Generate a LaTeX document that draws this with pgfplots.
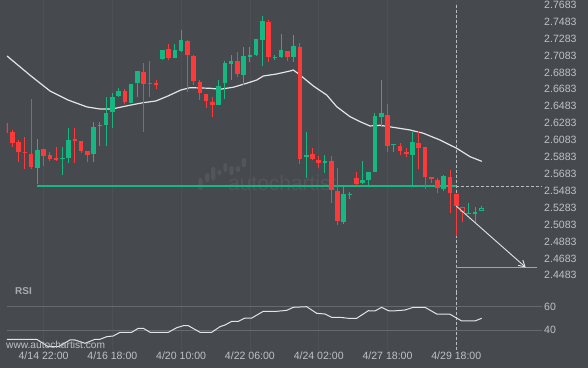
\documentclass[border=0pt]{standalone}
\usepackage{fontspec}
\setmainfont{Liberation Sans}
\usepackage{pgfplots}
\pgfplotsset{compat=1.18}
\usepackage{pgfplotstable}
\usetikzlibrary{arrows.meta}

\definecolor{bg}{RGB}{70,74,79}
\definecolor{cgreen}{RGB}{22,183,128}
\definecolor{cred}{RGB}{252,58,58}
\definecolor{lbl}{RGB}{190,193,197}
\definecolor{gridc}{RGB}{77,81,86}
\definecolor{rsigrid}{RGB}{102,106,110}
\definecolor{lineg}{RGB}{228,228,228}
\definecolor{orng}{RGB}{232,142,92}
\definecolor{dashc}{RGB}{185,188,192}
\definecolor{wmark}{RGB}{82,86,91}
\definecolor{rsilbl}{RGB}{168,172,178}

% i open high low close
\pgfplotstableread{
i o h l c
5 2.5756 2.6092 2.5566 2.5965
9 2.5859 2.6004 2.5669 2.5870
10 2.5874 2.6222 2.5815 2.6083
14 2.5921 2.6300 2.5827 2.6241
15 2.6249 2.6300 2.6016 2.6264
16 2.6261 2.6588 2.6016 2.6406
17 2.6418 2.6643 2.6229 2.6592
18 2.6604 2.6695 2.6595 2.6663
20 2.6521 2.6746 2.6521 2.6746
21 2.6757 2.6903 2.6595 2.6903
25 2.7041 2.7148 2.7029 2.7148
27 2.7057 2.7215 2.7050 2.7148
28 2.7136 2.7384 2.7128 2.7266
34 2.6497 2.6793 2.6497 2.6722
35 2.6761 2.7018 2.6568 2.6997
36 2.6986 2.7089 2.6793 2.7018
38 2.6852 2.7180 2.6734 2.7077
39 2.7065 2.7180 2.7002 2.7089
40 2.7089 2.7278 2.7077 2.7278
41 2.7266 2.7550 2.6962 2.7491
43 2.7053 2.7089 2.7029 2.7059
44 2.7061 2.7337 2.7050 2.7148
46 2.7061 2.7325 2.7009 2.7195
48 2.5879 2.6174 2.5630 2.5906
51 2.5808 2.5906 2.5689 2.5835
54 2.5110 2.5531 2.5090 2.5445
55 2.5436 2.5472 2.5382 2.5445
57 2.5571 2.5835 2.5563 2.5610
58 2.5610 2.5705 2.5539 2.5705
59 2.5708 2.6399 2.5708 2.6367
60 2.6359 2.6793 2.6241 2.6399
62 2.6024 2.6036 2.5945 2.6036
65 2.5906 2.6174 2.5551 2.6060
70 2.5500 2.5669 2.5484 2.5657
74 2.5212 2.5335 2.5204 2.5223
75 2.5208 2.5287 2.5098 2.5228
76 2.5243 2.5303 2.5243 2.5275
}\greentab

\pgfplotstableread{
i o h l c
0 2.6281 2.6281 2.6170 2.6170
1 2.6181 2.6202 2.5997 2.6051
2 2.6060 2.6083 2.5827 2.5945
3 2.5945 2.6119 2.5737 2.5933
4 2.5918 2.6568 2.5737 2.5767
6 2.5977 2.5977 2.5779 2.5898
7 2.5909 2.5938 2.5838 2.5859
8 2.5874 2.5997 2.5838 2.5847
11 2.6095 2.6222 2.5815 2.6071
12 2.6071 2.6071 2.5926 2.5957
13 2.5953 2.5953 2.5827 2.5906
19 2.6666 2.6683 2.6505 2.6533
22 2.6891 2.6997 2.6181 2.6746
23 2.6757 2.7018 2.6588 2.6749
24 2.6757 2.6793 2.6683 2.6734
26 2.7156 2.7215 2.7029 2.7057
29 2.7254 2.7266 2.6655 2.7089
30 2.7077 2.7089 2.6734 2.6781
31 2.6773 2.6793 2.6556 2.6643
32 2.6627 2.6627 2.6458 2.6548
33 2.6533 2.6588 2.6359 2.6497
37 2.7018 2.7128 2.6832 2.6864
42 2.7479 2.7503 2.7009 2.7068
45 2.7136 2.7136 2.7018 2.7068
47 2.7183 2.7227 2.5796 2.5862
49 2.5918 2.5985 2.5847 2.5862
50 2.5847 2.5894 2.5749 2.5808
52 2.5835 2.5894 2.5335 2.5492
53 2.5480 2.5749 2.5078 2.5129
56 2.5637 2.5708 2.5543 2.5563
61 2.6379 2.6509 2.5938 2.6016
63 2.6012 2.6044 2.5906 2.5953
64 2.5945 2.5985 2.5879 2.5914
66 2.6051 2.6193 2.5737 2.5992
67 2.6000 2.6000 2.5500 2.5642
68 2.5642 2.5642 2.5571 2.5618
69 2.5610 2.5630 2.5453 2.5512
71 2.5646 2.5728 2.5216 2.5460
72 2.5445 2.5445 2.4948 2.5306
73 2.5287 2.5287 2.5117 2.5235
}\redtab

\pgfplotstableread{
i o c
73 2.5287 2.5235
76 2.5243 2.5275
}\hollowtab

\pgfplotstableread{
i v
0.15 2.7077
3.99 2.6840
7.03 2.6663
9.91 2.6556
12.95 2.6474
15.02 2.6450
16.94 2.6450
19.98 2.6497
21.90 2.6524
23.98 2.6545
25.90 2.6604
27.98 2.6675
29.42 2.6702
32.62 2.6695
34.22 2.6683
36.34 2.6707
38.49 2.6754
40.09 2.6793
41.14 2.6840
43.28 2.6864
45.41 2.6899
45.94 2.6911
47.01 2.6852
49.14 2.6722
51.28 2.6615
52.88 2.6477
55.01 2.6359
56.61 2.6300
58.21 2.6249
59.80 2.6257
61.93 2.6233
64.59 2.6202
66.73 2.6163
69.40 2.6083
72.07 2.5985
74.20 2.5886
76.07 2.5831
}\matab

\pgfplotstableread{
i v
0.15 32.4
4.90 32.4
6.76 26.1
8.36 26.1
10.23 31.8
11.03 31.8
12.63 29.0
14.23 32.4
15.03 32.4
16.10 34.6
17.15 35.2
18.22 38.3
20.09 38.3
21.15 41.7
21.95 41.7
23.02 38.3
25.95 38.3
27.29 42.2
28.35 43.9
29.15 43.9
31.02 38.3
32.89 38.3
34.22 43.1
35.02 44.5
36.09 47.6
37.14 47.6
38.21 50.4
39.29 50.4
41.14 56.1
43.28 56.1
44.88 56.9
45.94 59.5
48.08 60.0
49.68 54.4
51.01 53.8
52.08 51.0
53.41 51.0
54.73 50.2
56.08 50.2
57.93 56.6
59.00 56.4
60.07 59.5
61.13 56.6
61.93 56.4
63.80 57.2
65.13 59.5
67.00 59.5
68.87 53.8
71.00 53.6
72.87 47.9
74.99 47.9
76.07 50.2
}\rsitab

\pgfplotsset{
  lblfont/.style={font=\fontsize{10.6}{12}\selectfont, text=lbl},
  candle/.style={forget plot, draw=none, mark=none},
}

\begin{document}
\begin{tikzpicture}[x=1bp,y=1bp]
\fill[bg] (0,0) rectangle (588,368);
% watermark (logo)
\begin{scope}[wmark, rounded corners=1.5bp]
\fill (198.3,178) rectangle (202.7,190);
\fill (205,186) rectangle (209.3,195);
\fill (211,188) rectangle (215.3,201);
\fill (217.3,193) rectangle (221.7,198);
\fill (223.3,196) rectangle (227.3,205);
\fill (229.3,193) rectangle (233.7,202);
\fill (235.7,196) rectangle (240,202);
\fill (241.7,201) rectangle (246,210);
\end{scope}
\node[anchor=base west, inner sep=0pt, font=\fontsize{21}{21}\selectfont, text=wmark] at (228,178) {autochartist};

\begin{axis}[
  at={(7bp,76bp)}, anchor=south west, scale only axis,
  width=535bp, height=292bp,
  xmin=0.152, xmax=85.71, ymin=2.42855, ymax=2.7739,
  axis line style={draw=none}, major tick length=0pt,
  xtick={6,17,28,39,50,61,72}, xticklabels={},
  xmajorgrids, x grid style={gridc, line width=0.6bp},
  ytick={2.4483,2.4683,2.4883,2.5083,2.5283,2.5483,2.5683,2.5883,2.6083,2.6283,2.6483,2.6683,2.6883,2.7083,2.7283,2.7483,2.7683},
  yticklabels={2.4483,2.4683,2.4883,2.5083,2.5283,2.5483,2.5683,2.5883,2.6083,2.6283,2.6483,2.6683,2.6883,2.7083,2.7283,2.7483,2.7683},
  yticklabel pos=right,
  yticklabel style={anchor=west, inner sep=0pt, xshift=2bp, lblfont},
  clip=true,
]
% moving average
\addplot[lineg, line width=1.2bp, mark=none] table[x=i, y=v] {\matab};
% green support line and its dashed continuation
\addplot[cgreen, line width=2bp, mark=none] coordinates {(5,2.5539) (72,2.5539)};
\addplot[dashc, line width=0.8bp, dash pattern=on 3bp off 2bp, mark=none] coordinates {(72,2.5539) (85.71,2.5539)};
% vertical dashed line
\addplot[dashc, line width=0.8bp, dash pattern=on 3bp off 2bp, mark=none] coordinates {(72,2.7683) (72,2.42855)};
% wicks
\addplot[candle, error bars/.cd, y dir=plus, y explicit, error mark=none,
  error bar style={line width=1bp, draw=cgreen}]
  table[x=i, y=l, y error plus expr={\thisrow{h}-\thisrow{l}}] {\greentab};
\addplot[candle, error bars/.cd, y dir=plus, y explicit, error mark=none,
  error bar style={line width=1bp, draw=cred}]
  table[x=i, y=l, y error plus expr={\thisrow{h}-\thisrow{l}}] {\redtab};
% bodies
\addplot[candle, error bars/.cd, y dir=plus, y explicit, error mark=none,
  error bar style={line width=4.6bp, draw=cgreen}]
  table[x=i, y expr={min(\thisrow{o},\thisrow{c})}, y error plus expr={max(abs(\thisrow{c}-\thisrow{o}),0.0012)}] {\greentab};
\addplot[candle, error bars/.cd, y dir=plus, y explicit, error mark=none,
  error bar style={line width=4.6bp, draw=cred}]
  table[x=i, y expr={min(\thisrow{o},\thisrow{c})}, y error plus expr={max(abs(\thisrow{c}-\thisrow{o}),0.0012)}] {\redtab};
% hollow candles
\addplot[candle, error bars/.cd, y dir=plus, y explicit, error mark=none,
  error bar style={line width=2.6bp, draw=bg}]
  table[x=i, y expr={min(\thisrow{o},\thisrow{c})+0.0009}, y error plus expr={abs(\thisrow{c}-\thisrow{o})-0.0018}] {\hollowtab};
% target
\addplot[orng, line width=1.2bp, mark=none] coordinates {(72,2.4577) (84.9,2.4577)};
\addplot[lineg, line width=0.9bp, mark=none, -{Straight Barb[length=6bp,width=7bp]}] coordinates {(72,2.5302) (83.1,2.4577)};
\end{axis}

\begin{axis}[
  at={(7bp,18bp)}, anchor=south west, scale only axis,
  width=535bp, height=58bp,
  xmin=0.152, xmax=85.71, ymin=23.31, ymax=72.46,
  axis line style={draw=none}, major tick length=0pt,
  xtick={6,17,28,39,50,61,72},
  xticklabels={4/14 22:00,4/16 18:00,4/20 10:00,4/22 06:00,4/24 02:00,4/27 18:00,4/29 18:00},
  xticklabel style={anchor=north, inner sep=0pt, yshift=-1.5bp, lblfont},
  xmajorgrids, x grid style={gridc, line width=0.6bp},
  ytick={40,60}, yticklabels={40,60},
  ymajorgrids, y grid style={rsigrid, line width=0.8bp},
  yticklabel pos=right,
  yticklabel style={anchor=west, inner sep=0pt, xshift=2bp, lblfont},
  clip=true,
]
\addplot[dashc, line width=0.8bp, dash pattern=on 3bp off 2bp, mark=none] coordinates {(72,72.46) (72,23.31)};
\addplot[lineg, line width=1bp, mark=none] table[x=i, y=v] {\rsitab};
\end{axis}

\node[anchor=west, inner sep=0pt, font=\bfseries\fontsize{10}{12}\selectfont, text=rsilbl] at (15,77) {RSI};
\node[anchor=west, inner sep=0pt, font=\fontsize{10.2}{12}\selectfont, text=lbl] at (6,23) {www.autochartist.com};

\pgfresetboundingbox
\path[use as bounding box] (0,0) rectangle (588,368);
\end{tikzpicture}
\end{document}
